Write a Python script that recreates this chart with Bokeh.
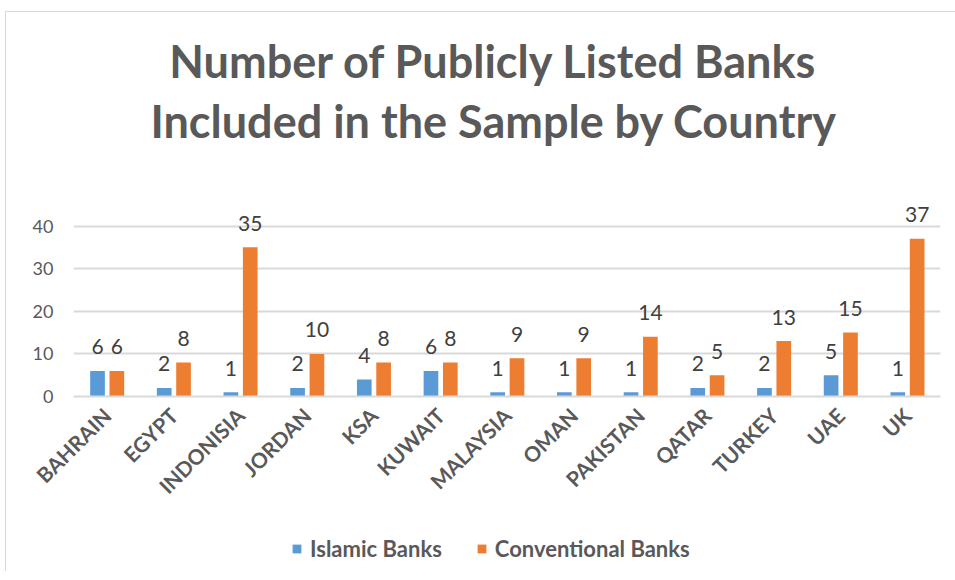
import math
from bokeh.plotting import figure
from bokeh.layouts import column
from bokeh.models import ColumnDataSource, FactorRange, Legend, LegendItem, FixedTicker
from bokeh.transform import dodge
from bokeh.core.properties import value
from bokeh.embed import file_html
from bokeh.resources import INLINE

countries = ["BAHRAIN", "EGYPT", "INDONISIA", "JORDAN", "KSA", "KUWAIT", "MALAYSIA",
             "OMAN", "PAKISTAN", "QATAR", "TURKEY", "UAE", "UK"]
islamic = [6, 2, 1, 2, 4, 6, 1, 1, 1, 2, 2, 5, 1]
conventional = [6, 8, 35, 10, 8, 8, 9, 9, 14, 5, 13, 15, 37]
y_ticks = [0, 10, 20, 30, 40]
title_lines = ["Number of Publicly Listed Banks", "Included in the Sample by Country"]
series_names = ["Islamic Banks", "Conventional Banks"]

BLUE = "#5B9BD5"
ORANGE = "#ED7D31"
GRAY = "#595959"
FONT = "Lato"
W = 949

# ---------- header with the two-line title ----------
HH = 158
head = figure(width=W, height=HH, x_range=(0, W), y_range=(0, HH),
              output_backend="svg", toolbar_location=None,
              x_axis_location=None, y_axis_location=None,
              min_border_left=0, min_border_right=0, min_border_top=0, min_border_bottom=0)
head.grid.visible = False
head.outline_line_color = None
head.title = None
head.text(x=[460, 460], y=[HH - 48, HH - 108], text=title_lines,
          text_font=value(FONT), text_font_style="bold", text_font_size="45px",
          text_color=GRAY, text_align="center", text_baseline="middle")

# ---------- main chart ----------
src = ColumnDataSource(dict(country=countries, islamic=islamic, conventional=conventional,
                            il=[str(v) for v in islamic], cl=[str(v) for v in conventional]))

p = figure(width=W, height=355, x_range=FactorRange(*countries), y_range=(0, 46),
           output_backend="svg", toolbar_location=None,
           min_border_left=67, min_border_right=15, min_border_top=30, min_border_bottom=129)
p.outline_line_color = None
p.background_fill_color = "white"
p.border_fill_color = "white"
p.title = None

r1 = p.vbar(x=dodge("country", -0.14, range=p.x_range), top="islamic", width=0.22,
            source=src, fill_color=BLUE, line_color=None)
r2 = p.vbar(x=dodge("country", 0.15, range=p.x_range), top="conventional", width=0.22,
            source=src, fill_color=ORANGE, line_color=None)

p.text(x=dodge("country", -0.14, range=p.x_range), y="islamic", text="il", source=src,
       text_font=value(FONT), text_font_size="21px", text_color="#404040",
       text_align="center", text_baseline="middle", y_offset=-24)
p.text(x=dodge("country", 0.15, range=p.x_range), y="conventional", text="cl", source=src,
       text_font=value(FONT), text_font_size="21px", text_color="#404040",
       text_align="center", text_baseline="middle", y_offset=-24)

p.yaxis.ticker = FixedTicker(ticks=y_ticks)
p.yaxis.axis_line_color = None
p.yaxis.major_tick_line_color = None
p.yaxis.minor_tick_line_color = None
p.yaxis.major_label_text_font = FONT
p.yaxis.major_label_text_font_size = "18px"
p.yaxis.major_label_text_color = GRAY
p.yaxis.major_label_standoff = 14

p.xaxis.axis_line_color = "#d9d9d9"
p.xaxis.axis_line_width = 2
p.xaxis.major_tick_line_color = None
p.xaxis.minor_tick_line_color = None
p.xaxis.major_label_orientation = math.pi / 4
p.xaxis.major_label_text_font = FONT
p.xaxis.major_label_text_font_style = "bold"
p.xaxis.major_label_text_font_size = "21px"
p.xaxis.major_label_text_color = GRAY
p.xaxis.major_label_standoff = 9

p.xgrid.grid_line_color = None
p.ygrid.ticker = FixedTicker(ticks=y_ticks)
p.ygrid.grid_line_color = "#d9d9d9"
p.ygrid.grid_line_width = 2
p.x_range.range_padding = 0
p.x_range.group_padding = 0

# ---------- legend strip ----------
lg = figure(width=W, height=46, x_range=(0, 1), y_range=(0, 1),
            output_backend="svg", toolbar_location=None,
            x_axis_location=None, y_axis_location=None,
            min_border_left=0, min_border_right=0, min_border_top=0, min_border_bottom=0)
lg.grid.visible = False
lg.outline_line_color = None
lg.title = None
l1 = lg.vbar(x=[-5], top=[-5], width=0.1, fill_color=BLUE, line_color=None)
l2 = lg.vbar(x=[-5], top=[-5], width=0.1, fill_color=ORANGE, line_color=None)
legend = Legend(items=[LegendItem(label=series_names[0], renderers=[l1]),
                       LegendItem(label=series_names[1], renderers=[l2])],
                orientation="horizontal", location=(218, 9),
                label_text_font=FONT, label_text_font_style="bold",
                label_text_font_size="22px", label_text_color=GRAY,
                glyph_width=11, glyph_height=11, spacing=34, label_standoff=8,
                border_line_color=None, background_fill_alpha=0, margin=0, padding=4)
lg.add_layout(legend)

layout = column(head, p, lg, spacing=0)
layout.margin = (11, 0, 0, 5)
layout.styles = {"border-top": "1px solid #d9d9d9", "border-left": "1px solid #d9d9d9"}
open("out.html", "w").write(file_html(layout, INLINE))
